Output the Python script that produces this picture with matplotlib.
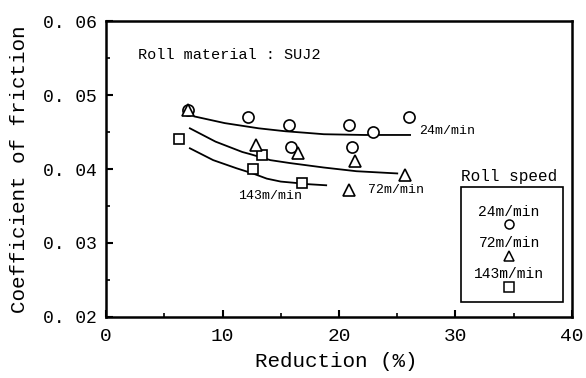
import matplotlib
matplotlib.use('Agg')
import matplotlib.pyplot as plt
from matplotlib.patches import Rectangle

# measured points (reduction %, coefficient of friction)
red_24 = [7.0, 12.2, 15.7, 15.9, 20.9, 21.1, 22.9, 26.0]
mu_24 = [0.0480, 0.0470, 0.0460, 0.0430, 0.0460, 0.0430, 0.0450, 0.0470]

red_72 = [7.0, 12.9, 16.5, 21.4, 25.7, 20.9]
mu_72 = [0.0480, 0.0432, 0.0421, 0.0411, 0.0392, 0.0372]

red_143 = [6.3, 12.6, 13.4, 16.8]
mu_143 = [0.0440, 0.0400, 0.0419, 0.0381]

# hand-drawn trend curves
curve_x_24 = [7.6, 10.2, 13.1, 15.4, 17.1, 18.7, 22.1, 26.1]
curve_y_24 = [0.0471, 0.0462, 0.0455, 0.0451, 0.0449, 0.0447, 0.0446, 0.0446]
curve_x_72 = [7.2, 9.4, 11.7, 12.4, 14.1, 15.8, 18.7, 21.5, 25.0]
curve_y_72 = [0.0455, 0.0437, 0.0423, 0.0420, 0.0412, 0.0408, 0.0402, 0.0397, 0.0394]
curve_x_143 = [7.2, 9.2, 11.2, 12.6, 13.8, 15.0, 16.4, 16.8, 18.9]
curve_y_143 = [0.0428, 0.0412, 0.0401, 0.0394, 0.0387, 0.0383, 0.0381, 0.0380, 0.0378]

speeds = ['24m/min', '72m/min', '143m/min']
markers = ['o', '^', 's']

y_ticks = [0.02, 0.03, 0.04, 0.05, 0.06]
y_tick_labels = ['0. 02', '0. 03', '0. 04', '0. 05', '0. 06']
x_ticks = [0, 10, 20, 30, 40]

plt.rcParams['font.family'] = ['Liberation Mono', 'DejaVu Sans Mono']

fig = plt.figure(figsize=(5.86, 3.78), dpi=100, facecolor='white')
ax = fig.add_axes([0.1809, 0.1614, 0.7952, 0.7830])

for cx, cy in [(curve_x_24, curve_y_24), (curve_x_72, curve_y_72), (curve_x_143, curve_y_143)]:
    ax.plot(cx, cy, color='black', linewidth=1.3, zorder=2)

mk = dict(linestyle='none', markerfacecolor='white', markeredgecolor='black',
          markeredgewidth=1.2, zorder=3)
ax.plot(red_24, mu_24, marker='o', markersize=8, **mk)
ax.plot(red_143, mu_143, marker='s', markersize=7, **mk)
ax.plot(red_72, mu_72, marker='^', markersize=8, **mk)

# curve labels
ax.text(26.9, 0.0452, speeds[0], fontsize=9.5, va='center', ha='left')
ax.text(22.5, 0.0372, speeds[1], fontsize=9.5, va='center', ha='left')
ax.text(11.3, 0.0363, speeds[2], fontsize=9.5, va='center', ha='left')

ax.text(2.75, 0.0554, 'Roll material : SUJ2', fontsize=11, va='center', ha='left')

# legend box (text above symbol)
ax.text(0.865, 0.475, 'Roll speed', transform=ax.transAxes, fontsize=11.5,
        ha='center', va='center')
ax.add_patch(Rectangle((0.761, 0.052), 0.220, 0.386, transform=ax.transAxes,
                       fill=False, edgecolor='black', linewidth=1.2))
for i, (lab, m) in enumerate(zip(speeds, markers)):
    ty = 0.356 - i * 0.106
    ax.text(0.865, ty, lab, transform=ax.transAxes, fontsize=10.5,
            ha='center', va='center')
    ax.plot([0.865], [ty - 0.043], transform=ax.transAxes, marker=m,
            markersize=6.5, linestyle='none', markerfacecolor='white',
            markeredgecolor='black', markeredgewidth=1.1, clip_on=False)

ax.set_xlim(0, 40)
ax.set_ylim(0.02, 0.06)
ax.set_xticks(x_ticks)
ax.set_xticklabels([str(v) for v in x_ticks])
ax.set_yticks(y_ticks)
ax.set_yticklabels(y_tick_labels)
ax.set_xticks([5, 15, 25, 35], minor=True)
ax.set_yticks([0.025, 0.035, 0.045, 0.055], minor=True)
ax.tick_params(axis='both', which='major', direction='in', length=5, width=1.5)
ax.tick_params(axis='both', which='minor', direction='in', length=3, width=1.2)
ax.tick_params(axis='y', pad=7, labelsize=13)
ax.tick_params(axis='x', pad=8, labelsize=14)

for s in ax.spines.values():
    s.set_linewidth(1.8)

ax.set_xlabel('Reduction (%)', fontsize=15, va='center')
ax.set_ylabel('Coefficient of friction', fontsize=15, va='center')
ax.xaxis.set_label_coords(0.4936, -0.152)
ax.yaxis.set_label_coords(-0.1867, 0.5)

fig.savefig('out.png', dpi=100, facecolor='white')
